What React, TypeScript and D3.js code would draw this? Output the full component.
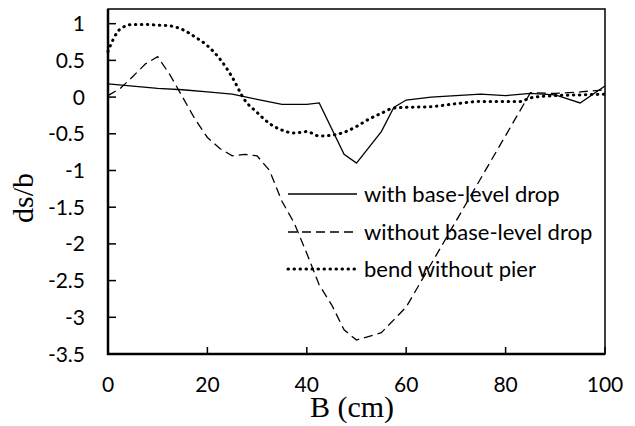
import React from "react";
import * as d3 from "d3";

const xTicks = [0, 20, 40, 60, 80, 100];
const yTicks = [1, 0.5, 0, -0.5, -1, -1.5, -2, -2.5, -3, -3.5];

const withDropB = [0, 5, 10, 15, 20, 25, 30, 35, 40, 42.5, 47.5, 50, 55, 57.5, 60, 65, 70, 75, 80, 85, 90, 95, 100];
const withDropV = [0.18, 0.15, 0.12, 0.1, 0.07, 0.04, -0.03, -0.1, -0.1, -0.08, -0.78, -0.9, -0.47, -0.14, -0.04, 0.0, 0.02, 0.04, 0.02, 0.05, 0.03, -0.08, 0.15];

const withoutDropB = [0, 2.5, 5, 7.5, 10, 12.5, 15, 17.5, 20, 22.5, 25, 27.5, 30, 32.5, 35, 37.5, 40, 42.5, 45, 47.5, 50, 55, 60, 85, 90, 95, 100];
const withoutDropV = [0.02, 0.12, 0.28, 0.45, 0.55, 0.3, 0.0, -0.3, -0.55, -0.7, -0.8, -0.78, -0.8, -1.0, -1.42, -1.72, -2.13, -2.56, -2.83, -3.17, -3.31, -3.21, -2.86, 0.06, 0.05, 0.07, 0.1];

const bendB = [0, 1, 2.5, 5, 7.5, 10, 12.5, 15, 17.5, 20, 22.5, 25, 27.5, 30, 32.5, 35, 37.5, 40, 42.5, 45, 47.5, 50, 52.5, 55, 57.5, 60, 65, 70, 75, 80, 83, 85, 90, 95, 100];
const bendV = [0.62, 0.78, 0.93, 0.99, 0.99, 0.98, 0.97, 0.92, 0.82, 0.7, 0.52, 0.27, -0.04, -0.21, -0.36, -0.45, -0.49, -0.47, -0.53, -0.52, -0.48, -0.4, -0.3, -0.22, -0.15, -0.14, -0.13, -0.09, -0.06, -0.06, -0.06, -0.01, 0.02, 0.03, 0.04];

const legendLabels = ["with base-level drop", "without base-level drop", "bend without pier"];

const W = 635;
const H = 426;
const L = 108, R = 605, T = 9, B = 354;

export default function App() {
  const x = d3.scaleLinear().domain([0, 100]).range([L, R]);
  const y = d3.scaleLinear().domain([-3.5, 1.2]).range([B, T]);
  const line = d3
    .line<[number, number]>()
    .x((d) => x(d[0]))
    .y((d) => y(d[1]));
  const smooth = d3
    .line<[number, number]>()
    .x((d) => x(d[0]))
    .y((d) => y(d[1]))
    .curve(d3.curveMonotoneX);

  const zip = (a: number[], b: number[]) => a.map((v, i) => [v, b[i]] as [number, number]);

  const styles = [
    { dash: undefined as string | undefined, width: 1.3, cap: "butt" },
    { dash: "9 5", width: 1.3, cap: "butt" },
    { dash: "0.5 5.5", width: 3, cap: "round" },
  ];
  const legY = [194, 232, 269];
  const tickFont = "Lato, 'Open Sans', sans-serif";

  return (
    <svg
      width={W}
      height={H}
      style={{ position: "absolute", left: 0, top: 0, background: "#fff" }}
    >
      <rect x={0} y={0} width={W} height={H} fill="#fff" />
      <rect x={L} y={T} width={R - L} height={B - T} fill="none" stroke="#000" strokeWidth={1.5} />
      <line x1={L} x2={L} y1={T} y2={B + 1} stroke="#000" strokeWidth={2.5} />
      <line x1={L - 1} x2={R} y1={B} y2={B} stroke="#000" strokeWidth={2.5} />
      {yTicks.map((t) => (
        <g key={"y" + t}>
          <line x1={L} x2={L + 8} y1={y(t)} y2={y(t)} stroke="#000" strokeWidth={1.5} />
          <text
            x={85}
            y={y(t)}
            dy="0.36em"
            textAnchor="end"
            fontFamily={tickFont}
            fontSize={21}
            fill="#000"
          >
            {t}
          </text>
        </g>
      ))}
      {xTicks.map((t) => (
        <g key={"x" + t}>
          <line x1={x(t)} x2={x(t)} y1={B} y2={B - 7} stroke="#000" strokeWidth={1.5} />
          <text
            x={x(t)}
            y={392}
            textAnchor="middle"
            fontFamily={tickFont}
            fontSize={21}
            fill="#000"
          >
            {t}
          </text>
        </g>
      ))}
      <path d={line(zip(withDropB, withDropV)) || ""} fill="none" stroke="#000" strokeWidth={styles[0].width} />
      <path
        d={line(zip(withoutDropB, withoutDropV)) || ""}
        fill="none"
        stroke="#000"
        strokeWidth={styles[1].width}
        strokeDasharray={styles[1].dash}
      />
      <path
        d={smooth(zip(bendB, bendV)) || ""}
        fill="none"
        stroke="#000"
        strokeWidth={styles[2].width}
        strokeDasharray={styles[2].dash}
        strokeLinecap="round"
      />
      {legendLabels.map((lab, i) => (
        <g key={lab}>
          <line
            x1={288}
            x2={357}
            y1={legY[i]}
            y2={legY[i]}
            stroke="#000"
            strokeWidth={styles[i].width}
            strokeDasharray={styles[i].dash}
            strokeLinecap={styles[i].cap as any}
          />
          <text x={364} y={legY[i]} dy="0.35em" fontFamily={tickFont} fontSize={22} fill="#000">
            {lab}
          </text>
        </g>
      ))}
      <text
        x={352}
        y={417}
        textAnchor="middle"
        fontFamily="'Liberation Serif', 'Times New Roman', serif"
        fontSize={30}
        fill="#000"
      >
        B (cm)
      </text>
      <text
        transform={`translate(33,198) rotate(-90)`}
        textAnchor="middle"
        fontFamily="'Liberation Serif', 'Times New Roman', serif"
        fontSize={30}
        fill="#000"
      >
        ds/b
      </text>
    </svg>
  );
}
